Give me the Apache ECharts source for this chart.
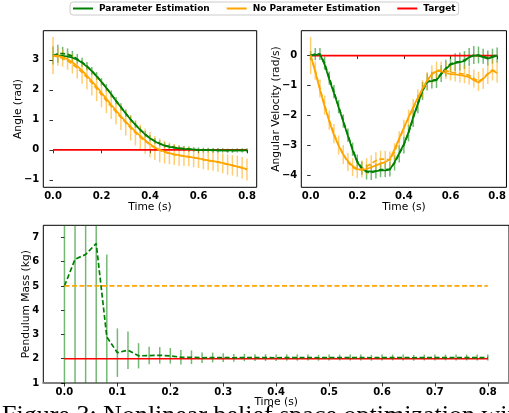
<!DOCTYPE html>
<html>
<head>
<meta charset="utf-8">
<script src="https://cdn.jsdelivr.net/npm/echarts@6/dist/echarts.min.js"></script>
<style>
html,body{margin:0;padding:0;background:#fff;}
#c{width:509px;height:413px;}
</style>
</head>
<body>
<div id="c"></div>
<script>
// ---------- data ----------
const time = [0.00,0.02,0.04,0.06,0.08,0.10,0.12,0.14,0.16,0.18,0.20,0.22,0.24,0.26,0.28,0.30,0.32,0.34,0.36,0.38,0.40,0.42,0.44,0.46,0.48,0.50,0.52,0.54,0.56,0.58,0.60,0.62,0.64,0.66,0.68,0.70,0.72,0.74,0.76,0.78,0.80];

// Angle (rad)
const angleParamMean = [3.14,3.14,3.13,3.11,3.07,3.00,2.90,2.77,2.62,2.45,2.26,2.06,1.85,1.63,1.42,1.21,1.01,0.83,0.66,0.51,0.38,0.28,0.20,0.14,0.10,0.07,0.05,0.03,0.02,0.01,0.00,-0.01,-0.01,-0.01,-0.02,-0.02,-0.02,-0.02,-0.02,-0.02,-0.02];
const angleParamTrial = [3.14,3.20,3.21,3.18,3.12,3.03,2.92,2.79,2.63,2.46,2.27,2.07,1.86,1.64,1.43,1.22,1.02,0.84,0.67,0.52,0.39,0.29,0.21,0.15,0.11,0.08,0.05,0.04,0.02,0.01,0.00,-0.01,-0.01,-0.02,-0.02,-0.02,-0.03,-0.03,-0.02,-0.02,-0.02];
const angleParamErr = [0.30,0.30,0.22,0.20,0.18,0.16,0.15,0.14,0.13,0.13,0.12,0.12,0.12,0.12,0.12,0.12,0.12,0.11,0.11,0.11,0.10,0.10,0.10,0.10,0.09,0.09,0.09,0.09,0.09,0.08,0.08,0.08,0.08,0.08,0.08,0.07,0.07,0.07,0.07,0.07,0.07];
const angleNoParamMean = [3.14,3.13,3.09,3.02,2.92,2.79,2.64,2.47,2.29,2.10,1.90,1.70,1.50,1.31,1.12,0.94,0.77,0.61,0.46,0.32,0.19,0.08,0.00,-0.06,-0.11,-0.15,-0.18,-0.21,-0.24,-0.26,-0.29,-0.32,-0.35,-0.38,-0.41,-0.44,-0.48,-0.52,-0.56,-0.60,-0.64];
const angleNoParamTrial = [3.14,3.10,3.05,2.97,2.86,2.73,2.58,2.41,2.23,2.04,1.84,1.64,1.45,1.26,1.08,0.90,0.73,0.57,0.42,0.29,0.17,0.06,-0.02,-0.08,-0.12,-0.16,-0.19,-0.21,-0.23,-0.26,-0.29,-0.33,-0.36,-0.38,-0.40,-0.45,-0.49,-0.52,-0.55,-0.60,-0.66];
const angleNoParamErr = [0.62,0.30,0.28,0.30,0.32,0.35,0.38,0.40,0.42,0.42,0.42,0.42,0.42,0.42,0.42,0.42,0.42,0.42,0.42,0.42,0.42,0.40,0.40,0.38,0.36,0.35,0.34,0.33,0.32,0.32,0.32,0.32,0.32,0.32,0.33,0.33,0.34,0.34,0.35,0.36,0.36];
const angleTarget = 0;

// Angular velocity (rad/s)
const velParamMean = [0.00,0.02,0.05,-0.30,-0.80,-1.25,-1.72,-2.20,-2.68,-3.15,-3.55,-3.78,-3.85,-3.87,-3.85,-3.83,-3.83,-3.80,-3.55,-3.25,-2.95,-2.55,-2.05,-1.60,-1.15,-0.87,-0.85,-0.82,-0.62,-0.45,-0.30,-0.25,-0.22,-0.18,-0.05,0.00,0.00,-0.05,-0.10,-0.05,0.00];
const velParamTrial = [0.00,0.05,0.05,-0.25,-0.75,-1.20,-1.70,-2.18,-2.65,-3.12,-3.52,-3.75,-3.88,-3.90,-3.85,-3.80,-3.80,-3.78,-3.58,-3.28,-2.98,-2.58,-2.08,-1.62,-1.18,-0.88,-0.82,-0.80,-0.60,-0.42,-0.28,-0.22,-0.20,-0.15,-0.05,0.02,0.02,-0.02,-0.08,-0.02,0.02];
const velParamErr = [0.15,0.20,0.20,0.22,0.22,0.22,0.22,0.22,0.22,0.22,0.22,0.22,0.25,0.25,0.25,0.25,0.25,0.25,0.25,0.28,0.28,0.28,0.30,0.30,0.30,0.28,0.28,0.28,0.28,0.28,0.28,0.30,0.30,0.30,0.30,0.30,0.28,0.25,0.25,0.25,0.25];
const velNoParamMean = [0.00,-0.55,-1.15,-1.70,-2.20,-2.65,-3.00,-3.30,-3.52,-3.68,-3.78,-3.82,-3.78,-3.72,-3.66,-3.60,-3.55,-3.45,-3.12,-2.76,-2.40,-2.05,-1.72,-1.40,-1.10,-0.82,-0.62,-0.52,-0.52,-0.58,-0.62,-0.63,-0.65,-0.68,-0.72,-0.82,-0.90,-0.78,-0.62,-0.50,-0.58];
const velNoParamTrial = [0.00,-0.50,-1.10,-1.65,-2.15,-2.60,-2.98,-3.30,-3.55,-3.72,-3.80,-3.78,-3.70,-3.60,-3.50,-3.45,-3.45,-3.48,-3.20,-2.80,-2.42,-2.08,-1.75,-1.42,-1.12,-0.85,-0.62,-0.50,-0.48,-0.50,-0.55,-0.58,-0.60,-0.62,-0.66,-0.76,-0.86,-0.76,-0.60,-0.48,-0.55];
const velNoParamErr = [0.62,0.30,0.30,0.32,0.32,0.32,0.32,0.32,0.30,0.30,0.28,0.28,0.28,0.28,0.28,0.28,0.28,0.28,0.28,0.28,0.28,0.28,0.30,0.30,0.30,0.30,0.30,0.30,0.28,0.28,0.28,0.28,0.30,0.30,0.30,0.30,0.32,0.35,0.35,0.35,0.35];
const velTarget = 0;

// Pendulum mass (kg)
const massParamMean = [5.00,6.10,6.30,6.75,2.90,2.25,2.35,2.12,2.13,2.14,2.12,2.06,2.06,2.04,2.05,2.05,2.04,2.05,2.05,2.05,2.04,2.05,2.05,2.05,2.04,2.05,2.05,2.05,2.05,2.04,2.05,2.05,2.05,2.04,2.05,2.05,2.05,2.05,2.05,2.05,2.05];
const massParamErr = [9.00,9.00,9.00,9.00,3.40,1.00,0.77,0.52,0.36,0.34,0.32,0.30,0.28,0.22,0.20,0.18,0.16,0.15,0.14,0.14,0.13,0.13,0.13,0.12,0.12,0.12,0.12,0.12,0.12,0.12,0.12,0.12,0.12,0.12,0.12,0.12,0.12,0.12,0.12,0.12,0.12];
const massNoParam = 5;
const massTarget = 2;

// tick labels
const xTicksTop = [0.0,0.2,0.4,0.6,0.8];
const xTicksBottom = [0.0,0.1,0.2,0.3,0.4,0.5,0.6,0.7,0.8];
const angleTicks = [-1,0,1,2,3];
const velTicks = [-4,-3,-2,-1,0];
const massTicks = [1,2,3,4,5,6,7];

const legendNames = ['Parameter Estimation','No Parameter Estimation','Target'];
const caption = 'Figure 3: Nonlinear belief space optimization with';

// ---------- styling ----------
const GREEN = '#008000', ORANGE = '#FFA500', RED = '#FF0000';
const FONT = 'DejaVu Sans';

function pts(v){ return time.map((t,i)=>[t, v[i]]); }
function errPts(v,e){ return time.map((t,i)=>[t, v[i]-e[i], v[i]+e[i]]); }
function flat(v){ return [[time[0], v],[time[time.length-1], v]]; }

function xAx(gi, ticks, spine){
  return {
    type:'value', gridIndex:gi, min:-0.04, max:0.84,
    name:'Time (s)', nameLocation:'middle', nameGap:14, nameMoveOverlap:false,
    nameTextStyle:{fontFamily:FONT, fontSize:10.7, color:'#000'},
    axisLine: spine ? {show:true, onZero:false, lineStyle:{color:'#808080', width:2}} : {show:false},
    splitLine:{show:false},
    axisTick:{show:true, customValues:ticks, length:3.5, lineStyle:{color:'#000', width:0.8}},
    axisLabel:{customValues:ticks, formatter:v=>v.toFixed(1), fontFamily:FONT, fontWeight:'bold', fontSize:10, color:'#000', margin:4}
  };
}
function yAx(gi, min, max, ticks, name, gap){
  return {
    type:'value', gridIndex:gi, min:min, max:max,
    name:name, nameLocation:'middle', nameGap:gap, nameMoveOverlap:false,
    nameTextStyle:{fontFamily:FONT, fontSize:10.7, color:'#000'},
    axisLine:{show:false}, splitLine:{show:false},
    axisTick:{show:true, customValues:ticks, length:3.5, lineStyle:{color:'#000', width:0.8}},
    axisLabel:{customValues:ticks, formatter:v=>(v<0?'\u2212':'')+Math.abs(v).toFixed(0), fontFamily:FONT, fontWeight:'bold', fontSize:10, color:'#000', margin:4}
  };
}
function errSeries(gi, v, e, color){
  return {
    type:'custom', xAxisIndex:gi, yAxisIndex:gi, z:1, silent:true,
    data: errPts(v,e), encode:{x:0, y:[1,2]},
    renderItem:function(params, api){
      const cs = params.coordSys;
      const p1 = api.coord([api.value(0), api.value(1)]);
      const p2 = api.coord([api.value(0), api.value(2)]);
      const clampY = y => Math.max(cs.y, Math.min(cs.y+cs.height, y));
      return {type:'line', shape:{x1:p1[0], y1:clampY(p1[1]), x2:p2[0], y2:clampY(p2[1])},
        style:{stroke:color, lineWidth:1.5, opacity:0.55}};
    }
  };
}
function lineSeries(gi, name, data, color, dashed, z){
  return {
    type:'line', name:name, xAxisIndex:gi, yAxisIndex:gi, data:data, showSymbol:false, symbol:'none',
    z:z||3, silent:true,
    itemStyle:{color:color},
    lineStyle:{color:color, width:1.7, type: dashed ? [5,2.5] : 'solid'}
  };
}

const gridBox = {show:true, borderColor:'#000', borderWidth:1, backgroundColor:'transparent'};

const option = {
  animation:false,
  backgroundColor:'#fff',
  grid:[
    Object.assign({left:43.3, top:30.7, width:213.4, height:156.6}, gridBox),
    Object.assign({left:301.3, top:30.7, width:211, height:156.6}, gridBox),
    Object.assign({left:43.3, top:225.3, width:471.4, height:157.7}, gridBox)
  ],
  xAxis:[ xAx(0, xTicksTop, false), xAx(1, xTicksTop, false), xAx(2, xTicksBottom, true) ],
  yAxis:[
    yAx(0, -1.25, 3.97, angleTicks, 'Angle (rad)', 20),
    yAx(1, -4.39, 0.83, velTicks, 'Angular Velocity (rad/s)', 20),
    yAx(2, 1, 7.5, massTicks, 'Pendulum Mass (kg)', 12)
  ],
  legend:{
    data:[
      {name:legendNames[0], icon:'rect', itemStyle:{color:GREEN}},
      {name:legendNames[1], icon:'rect', itemStyle:{color:ORANGE}},
      {name:legendNames[2], icon:'rect', itemStyle:{color:RED}}
    ],
    left:70, top:2, itemWidth:20, itemHeight:2, itemGap:17,
    padding:[2,3,2,3], backgroundColor:'#fff', borderColor:'#ccc', borderWidth:1, borderRadius:3,
    selectedMode:false,
    textStyle:{fontFamily:FONT, fontWeight:'bold', fontSize:9, color:'#000', padding:[0,0,0,1]}
  },
  graphic:[{
    type:'text', left:2, top:403, z:-1,
    style:{text:caption, font:'26px "Liberation Serif"', fill:'#000'}
  }],
  series:[
    // angle
    errSeries(0, angleParamTrial, angleParamErr, GREEN),
    errSeries(0, angleNoParamTrial, angleNoParamErr, ORANGE),
    lineSeries(0, legendNames[2], flat(angleTarget), RED, false, 2),
    lineSeries(0, legendNames[0], pts(angleParamMean), GREEN, false),
    lineSeries(0, 'pe-trial-a', pts(angleParamTrial), GREEN, true),
    lineSeries(0, legendNames[1], pts(angleNoParamMean), ORANGE, false),
    lineSeries(0, 'npe-trial-a', pts(angleNoParamTrial), ORANGE, true),
    // angular velocity
    errSeries(1, velParamTrial, velParamErr, GREEN),
    errSeries(1, velNoParamTrial, velNoParamErr, ORANGE),
    lineSeries(1, legendNames[2], flat(velTarget), RED, false, 2),
    lineSeries(1, legendNames[0], pts(velParamMean), GREEN, false),
    lineSeries(1, 'pe-trial-v', pts(velParamTrial), GREEN, true),
    lineSeries(1, legendNames[1], pts(velNoParamMean), ORANGE, false),
    lineSeries(1, 'npe-trial-v', pts(velNoParamTrial), ORANGE, true),
    // mass
    errSeries(2, massParamMean, massParamErr, GREEN),
    lineSeries(2, legendNames[2], flat(massTarget), RED, false, 2),
    lineSeries(2, 'pe-mass', pts(massParamMean), GREEN, true),
    lineSeries(2, 'npe-mass', flat(massNoParam), ORANGE, true)
  ]
};

const chart = echarts.init(document.getElementById('c'), null, {renderer:'canvas', width:509, height:413});
chart.setOption(option);
</script>
</body>
</html>
